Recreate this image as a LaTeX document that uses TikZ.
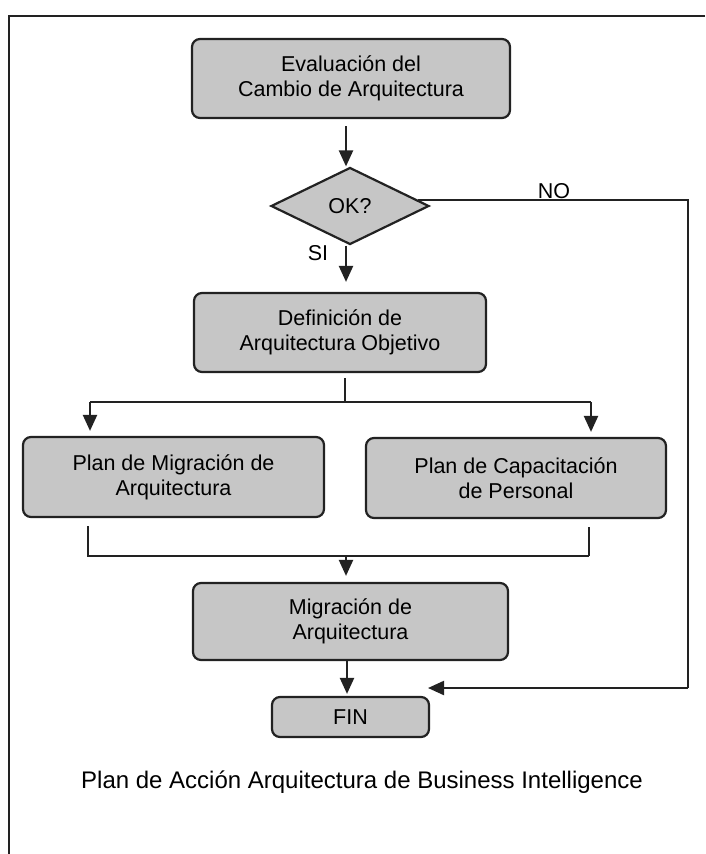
\documentclass[tikz,border=0pt]{standalone}
\usepackage{fontspec}
\setmainfont{Liberation Sans}
\usetikzlibrary{shapes.geometric,arrows.meta,calc}
\definecolor{boxfill}{HTML}{C6C6C6}
\definecolor{ink}{HTML}{222222}
\begin{document}
\begin{tikzpicture}[x=1pt,y=-1pt,
  stepbox/.style={draw=ink,line width=2.2pt,fill=boxfill,rounded corners=8pt,
    align=center,inner sep=0pt,font=\fontsize{21.5}{25}\selectfont},
  decision/.style={draw=ink,line width=2.2pt,fill=boxfill,diamond,inner sep=0pt,
    minimum width=158pt,minimum height=77pt,font=\fontsize{21.5}{25}\selectfont},
  link/.style={draw=ink,line width=2.2pt},
  arrow/.style={link,-{Triangle[length=16pt,width=14pt]}},
  lbl/.style={font=\fontsize{21.5}{25}\selectfont,inner sep=0pt}]
\useasboundingbox (0,0) rectangle (705,854);
\fill[white] (0,0) rectangle (705,854);
% page frame
\draw[link] (705,16) -- (9,16) -- (9,854);

% steps
\node[stepbox,minimum width=318pt,minimum height=79pt] (eval) at (351,78.5)
  {Evaluación del\\Cambio de Arquitectura};
\node[decision] (ok) at (350,206) {OK?};
\node[stepbox,minimum width=292pt,minimum height=79pt] (def) at (340,332.5)
  {Definición de\\Arquitectura Objetivo};
\node[stepbox,minimum width=301pt,minimum height=80pt] (pm) at (173.5,477)
  {Plan de Migración de\\Arquitectura};
\node[stepbox,minimum width=300pt,minimum height=80pt] (pc) at (516,478)
  {Plan de Capacitación\\de Personal};
\node[stepbox,minimum width=315pt,minimum height=77pt] (mig) at (350.5,621.5)
  {Migración de\\Arquitectura};
\node[stepbox,minimum width=157pt,minimum height=40pt] (fin) at (350.5,717) {FIN};

% junction points
\coordinate (split) at (345,402);
\coordinate (merge) at (346,556);
\coordinate (noright) at (688,199);
\coordinate (nodown) at (688,688);
\coordinate (noend) at (428,688);

% main flow
\draw[arrow,shorten <=7pt] (eval.south -| 346,0) -- (ok.north -| 346,0);
\draw[arrow,shorten >=10pt] (ok.south -| 346,0) -- (def.north -| 346,0);
\node[lbl] (si) at (318,253) {SI};

\draw[link,shorten <=5pt] (def.south -| split) -- (split);
\draw[link] (split -| 90,0) -- (split -| 591,0);
\draw[arrow,shorten >=5pt] (split -| 90,0) -- (pm.north -| 90,0);
\draw[arrow,shorten >=5pt] (split -| 591,0) -- (pc.north -| 591,0);

\draw[link,shorten <=8pt] (pm.south -| 88,0) -- (merge -| 88,0) -- (merge -| 589,0);
\draw[link,shorten >=8pt] (merge -| 589,0) -- (pc.south -| 589,0);
\draw[arrow,shorten >=6pt] (merge) -- (mig.north -| merge);
\draw[arrow,shorten >=2pt] (mig.south -| 347,0) -- (fin.north -| 347,0);

% rejection path
\draw[link] (ok.5) -- (ok.5 -| noright) -- (nodown);
\draw[arrow] (nodown) -- (noend);
\node[lbl] (no) at (554,191) {NO};

% caption
\node[font=\fontsize{24}{28}\selectfont,inner sep=0pt] (caption) at (362,782)
  {Plan de Acción Arquitectura de Business Intelligence};
\end{tikzpicture}
\end{document}
